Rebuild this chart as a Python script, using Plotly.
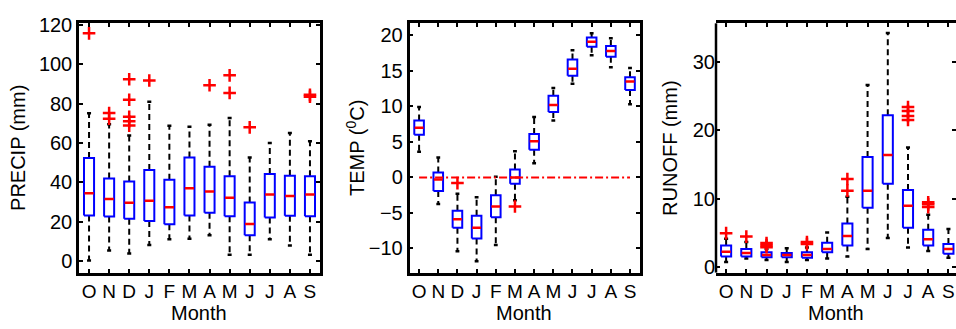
import plotly.graph_objects as go

# Month order of the water year (October .. September)
months = ["O", "N", "D", "J", "F", "M", "A", "M", "J", "J", "A", "S"]

# Monthly precipitation (mm): box statistics and outliers
precip_q1 = [23.2, 22.6, 21.5, 20.4, 18.7, 23.2, 24.6, 22.8, 13.2, 22.2, 23.0, 22.8]
precip_med = [34.4, 31.5, 29.6, 30.7, 27.4, 37.0, 35.4, 32.2, 18.8, 33.8, 33.1, 33.8]
precip_q3 = [52.3, 42.0, 40.4, 46.3, 41.3, 52.6, 47.9, 43.1, 29.8, 44.2, 43.3, 43.1]
precip_lo = [0.3, 5.4, 3.9, 8.2, 11.1, 11.4, 13.2, 3.2, 3.2, 11.1, 8.0, 3.2]
precip_hi = [75.0, 69.5, 63.8, 80.9, 68.7, 68.2, 69.2, 72.7, 52.6, 60.0, 65.0, 60.9]
precip_out = [[115.6], [75.2, 72.3], [92.3, 81.9, 73.3, 71.0, 68.8], [91.7], [], [],
              [89.3], [94.3, 85.4], [67.9], [], [], [84.4, 83.4]]

# Monthly mean temperature (deg C)
temp_q1 = [6.0, -1.9, -7.1, -8.6, -5.6, -0.9, 3.9, 9.2, 14.3, 18.4, 17.0, 12.3]
temp_med = [7.0, -0.3, -5.9, -7.1, -4.1, 0.0, 5.1, 10.2, 15.3, 19.1, 17.8, 13.5]
temp_q3 = [8.0, 0.7, -4.7, -5.4, -2.5, 1.1, 6.1, 11.5, 16.6, 19.7, 18.5, 14.1]
temp_lo = [3.6, -3.75, -10.4, -11.8, -9.5, -3.2, 2.0, 8.0, 13.2, 17.2, 15.5, 10.3]
temp_hi = [9.9, 2.8, -2.3, -2.8, 0.1, 3.7, 8.5, 12.6, 17.9, 20.3, 19.6, 15.4]
temp_out = [[], [], [-0.8], [], [], [-4.1], [], [], [], [], [], []]
freezing = 0.0

# Monthly runoff (mm)
runoff_q1 = [1.6, 1.6, 1.5, 1.5, 1.4, 2.2, 3.2, 8.7, 12.2, 5.8, 3.2, 2.0]
runoff_med = [2.3, 2.1, 1.8, 1.8, 1.8, 2.7, 4.6, 11.2, 16.4, 9.0, 4.1, 2.7]
runoff_q3 = [3.2, 2.7, 2.2, 2.1, 2.2, 3.6, 6.4, 16.1, 22.2, 11.3, 5.5, 3.4]
runoff_lo = [0.8, 1.3, 1.1, 0.8, 1.1, 1.3, 1.6, 2.7, 4.3, 2.9, 2.4, 1.4]
runoff_hi = [4.2, 3.7, 2.7, 2.8, 2.9, 5.1, 10.3, 26.6, 34.2, 17.5, 7.7, 5.6]
runoff_out = [[5.0], [4.5], [3.55, 3.25, 2.95], [], [3.7, 3.4], [], [12.9, 11.2], [], [],
              [23.4, 22.8, 22.1, 21.5], [9.5, 9.2, 8.8], []]

W, H = 956, 329
FONT = "Liberation Sans, Arial, Helvetica, sans-serif"
HALF = 0.25      # half box width (category units)
CAP = 0.1        # half whisker-cap width
BLUE, RED, BLACK = "#0000ff", "#ff0000", "#000000"

fig = go.Figure()


def add_boxes(xa, ya, q1, med, q3, lo, hi, out):
    pos = list(range(1, len(q1) + 1))
    wx, wy, cx, cy, bx, by, mx, my, ox, oy = ([] for _ in range(10))
    for p, a, m, b, l, h, o in zip(pos, q1, med, q3, lo, hi, out):
        wx += [p, p, None, p, p, None]
        wy += [b, h, None, a, l, None]
        cx += [p - CAP, p + CAP, None, p - CAP, p + CAP, None]
        cy += [h, h, None, l, l, None]
        bx += [p - HALF, p + HALF, p + HALF, p - HALF, p - HALF, None]
        by += [a, a, b, b, a, None]
        mx += [p - HALF + 0.02, p + HALF - 0.02, None]
        my += [m, m, None]
        ox += [p] * len(o)
        oy += o
    common = dict(xaxis=xa, yaxis=ya, hoverinfo="skip", showlegend=False)
    fig.add_trace(go.Scatter(x=wx, y=wy, mode="lines",
                             line=dict(color=BLACK, width=2, dash="6px,4px"), **common))
    fig.add_trace(go.Scatter(x=cx, y=cy, mode="lines",
                             line=dict(color=BLACK, width=2.5), **common))
    fig.add_trace(go.Scatter(x=bx, y=by, mode="lines",
                             line=dict(color=BLUE, width=2), **common))
    fig.add_trace(go.Scatter(x=mx, y=my, mode="lines",
                             line=dict(color=RED, width=2.5), **common))
    fig.add_trace(go.Scatter(x=ox, y=oy, mode="markers",
                             marker=dict(symbol="cross-thin", size=9, color=RED,
                                         line=dict(color=RED, width=2.5)), **common))


add_boxes("x", "y", precip_q1, precip_med, precip_q3, precip_lo, precip_hi, precip_out)
add_boxes("x2", "y2", temp_q1, temp_med, temp_q3, temp_lo, temp_hi, temp_out)
# freezing-point reference line across the months
fig.add_trace(go.Scatter(x=[1, len(months)], y=[freezing, freezing], mode="lines",
                         xaxis="x2", yaxis="y2", hoverinfo="skip", showlegend=False,
                         line=dict(color=RED, width=2, dash="8px,3px,2px,3px")))
add_boxes("x3", "y3", runoff_q1, runoff_med, runoff_q3, runoff_lo, runoff_hi, runoff_out)

ydom = [1 - 276 / H, 1 - 14 / H]
axis_style = dict(showline=True, linecolor=BLACK, linewidth=2.5, mirror="ticks",
                  ticks="inside", ticklen=4, tickwidth=1.5, tickcolor=BLACK,
                  showgrid=False, zeroline=False,
                  tickfont=dict(family=FONT, size=20, color=BLACK))
xticks = dict(tickmode="array", tickvals=list(range(1, len(months) + 1)), ticktext=months,
              tickfont=dict(family=FONT, size=19, color=BLACK))
xstyle = {**axis_style, **xticks}

fig.update_layout(
    width=W, height=H,
    margin=dict(l=0, r=0, t=0, b=0),
    paper_bgcolor="white", plot_bgcolor="white",
    showlegend=False,
    xaxis=dict(domain=[79 / W, 320 / W], range=[0.5, 12.5], anchor="y", **xstyle),
    yaxis=dict(domain=ydom, range=[-5.8, 120.7], anchor="x",
               tickvals=[0, 20, 40, 60, 80, 100, 120], **axis_style),
    xaxis2=dict(domain=[409.5 / W, 639.6 / W], range=[0.5, 12.5], anchor="y2", **xstyle),
    yaxis2=dict(domain=ydom, range=[-13.4, 21.7], anchor="x2",
                tickvals=[-10, -5, 0, 5, 10, 15, 20], **axis_style),
    xaxis3=dict(domain=[716 / W, 1.0], range=[0.5, 12.375], anchor="y3", **xstyle),
    yaxis3=dict(domain=ydom, range=[-0.75, 35.6], anchor="x3",
                tickvals=[0, 10, 20, 30], **{**axis_style, "showline": False}),
)

# left spine of the third panel (its right spine lies past the page edge)
fig.add_shape(type="line", xref="x3 domain", yref="y3 domain", x0=0, x1=0, y0=0, y1=1,
              line=dict(color=BLACK, width=2.5))

title_font = dict(family=FONT, size=20, color=BLACK)
for cx, txt in [(199, "Month"), (524, "Month"), (836, "Month")]:
    fig.add_annotation(x=cx / W, y=1 - 318 / H, xref="paper", yref="paper", text=txt,
                       showarrow=False, font=title_font, xanchor="center", yanchor="middle")
for cx, txt in [(18, "PRECIP (mm)"), (356, "TEMP (<sup>0</sup>C)"), (670, "RUNOFF (mm)")]:
    fig.add_annotation(x=cx / W, y=1 - 145 / H, xref="paper", yref="paper", text=txt,
                       textangle=-90, showarrow=False, font=title_font,
                       xanchor="center", yanchor="middle")

fig.write_html("out.html")
